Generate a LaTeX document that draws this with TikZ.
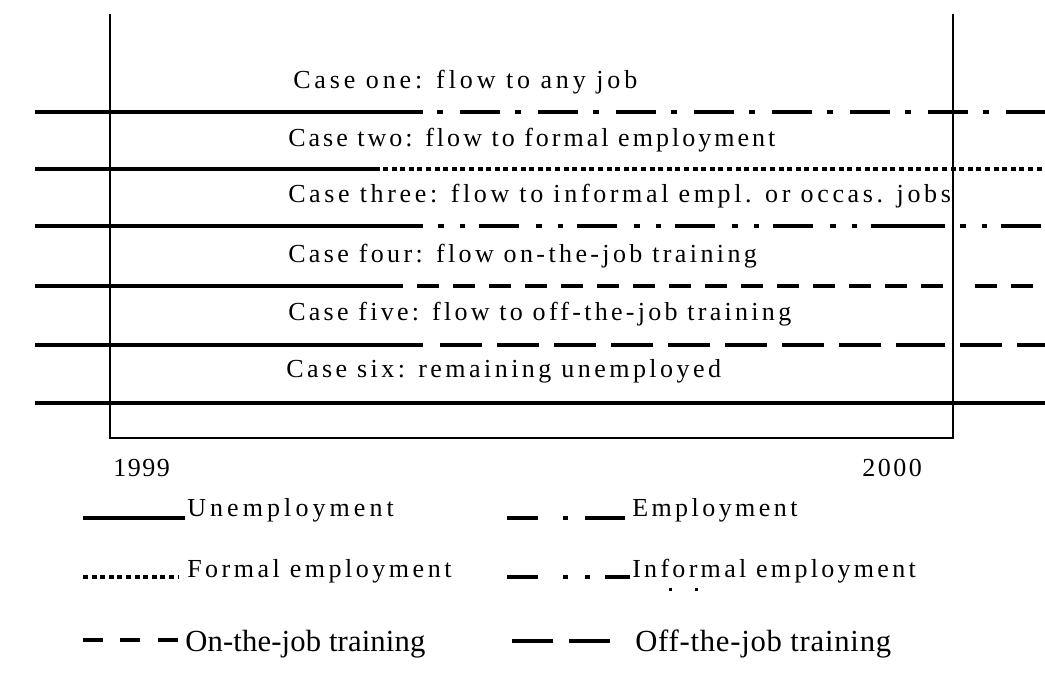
\documentclass[tikz,border=0pt]{standalone}
\usepackage{fontspec}
\setmainfont{Liberation Serif}
\newfontfamily\labelserif{Liberation Serif}
\begin{document}
\begin{tikzpicture}[x=0.75pt,y=-0.75pt,
  caselabel/.style={anchor=base west,inner sep=0pt,
    font=\labelserif\fontsize{19.5}{23}\selectfont\addfontfeature{LetterSpace=#1}},
  caselabel/.default=13,
  keybig/.style={anchor=base west,inner sep=0pt,
    font=\labelserif\fontsize{23}{27}\selectfont\addfontfeature{LetterSpace=#1}},
  keybig/.default=1,
  track/.style={line width=3.6pt},
  frameline/.style={line width=2.1pt},
  empdash/.style={dash pattern=on 4.5pt off 12.75pt on 30pt off 11.25pt},
  formdash/.style={line width=3pt,dash pattern=on 3.75pt off 2.7pt},
  infdash/.style={dash pattern=on 4.5pt off 12pt on 3.75pt off 10.5pt on 30pt off 12.75pt},
  onjdash/.style={dash pattern=on 16.5pt off 10.5pt},
  offjdash/.style={dash pattern=on 31.5pt off 11.25pt},
]
\useasboundingbox (0,0) rectangle (1045,680);

% time axis frame
\coordinate (ftl) at (110,14);
\coordinate (fbl) at (110,438);
\coordinate (fbr) at (953,438);
\coordinate (ftr) at (953,14);
\draw[frameline] (ftl) -- (fbl) -- (fbr) -- (ftr);

% case one: unemployment, then employment
\coordinate (a0) at (35,112);  \coordinate (a1) at (423,112);
\coordinate (a2) at (437,112); \coordinate (a3) at (1045,112);
\draw[track] (a0) -- (a1);
\draw[track,empdash] (a2) -- (a3);

% case two: unemployment, then formal employment
\coordinate (b0) at (35,169);  \coordinate (b1) at (380,169);
\coordinate (b2) at (383,169); \coordinate (b3) at (1045,169);
\draw[track] (b0) -- (b1);
\draw[formdash] (b2) -- (b3);

% case three: unemployment, then informal employment
\coordinate (c0) at (35,226);  \coordinate (c1) at (423,226);
\coordinate (c2) at (438,226); \coordinate (c3) at (870,226);
\coordinate (c4) at (871,226); \coordinate (c5) at (945,226);
\coordinate (c6) at (960,226); \coordinate (c7) at (1045,226);
\draw[track] (c0) -- (c1);
\draw[track,infdash] (c2) -- (c3);
\draw[track] (c4) -- (c5);
\draw[track,infdash] (c6) -- (c7);

% case four: unemployment, then on-the-job training
\coordinate (d0) at (35,286);  \coordinate (d1) at (403,286);
\coordinate (d2) at (417,286); \coordinate (d3) at (953,286);
\coordinate (d4) at (975,286); \coordinate (d5) at (1045,286);
\draw[track] (d0) -- (d1);
\draw[track,onjdash] (d2) -- (d3);
\draw[track,onjdash] (d4) -- (d5);

% case five: unemployment, then off-the-job training
\coordinate (e0) at (35,345);  \coordinate (e1) at (423,345);
\coordinate (e2) at (440,345); \coordinate (e3) at (881,345);
\coordinate (e4) at (896,345); \coordinate (e5) at (945,345);
\coordinate (e6) at (960,345); \coordinate (e7) at (1045,345);
\draw[track] (e0) -- (e1);
\draw[track,offjdash] (e2) -- (e3);
\draw[track] (e4) -- (e5);
\draw[track,offjdash] (e6) -- (e7);

% case six: unemployment throughout
\coordinate (f0) at (35,403); \coordinate (f1) at (1045,403);
\draw[track] (f0) -- (f1);

% case labels
\node[caselabel=15]   (l1) at (293,89)  {Case one: flow to any job};
\node[caselabel=11.6] (l2) at (288,147) {Case two: flow to formal employment};
\node[caselabel=14]   (l3) at (288,203) {Case three: flow to informal empl. or occas. jobs};
\node[caselabel=13]   (l4) at (288,263) {Case four: flow on-the-job training};
\node[caselabel=12.6] (l5) at (288,321) {Case five: flow to off-the-job training};
\node[caselabel=13.3] (l6) at (286,378) {Case six: remaining unemployed};

% years
\node[caselabel=6]   (y1) at (113,476) {1999};
\node[caselabel=9.8] (y2) at (862,476) {2000};

% key, row one
\coordinate (k1a) at (83,518); \coordinate (k1b) at (185,518);
\draw[track] (k1a) -- (k1b);
\node[caselabel=15.7] (t1) at (187,516) {Unemployment};
\coordinate (k2a) at (507,518); \coordinate (k2b) at (538,518);
\coordinate (k2c) at (563,518); \coordinate (k2d) at (568,518);
\coordinate (k2e) at (585,518); \coordinate (k2f) at (625,518);
\draw[track] (k2a) -- (k2b) (k2c) -- (k2d) (k2e) -- (k2f);
\node[caselabel=13.2] (t2) at (632,516) {Employment};

% key, row two
\coordinate (k3a) at (83,577); \coordinate (k3b) at (178,577);
\draw[formdash] (k3a) -- (k3b);
\node[caselabel=13.5] (t3) at (187,577) {Formal employment};
\coordinate (k4a) at (507,577); \coordinate (k4b) at (538,577);
\coordinate (k4c) at (563,577); \coordinate (k4d) at (568,577);
\coordinate (k4e) at (585,577); \coordinate (k4f) at (590,577);
\coordinate (k4g) at (605,577); \coordinate (k4h) at (630,577);
\draw[track] (k4a) -- (k4b) (k4c) -- (k4d) (k4e) -- (k4f) (k4g) -- (k4h);
\node[caselabel=12.7] (t4) at (632,577) {Informal employment};
\fill (669,588) rectangle (671.5,590.5);
\fill (695,588) rectangle (697.5,590.5);

% key, row three
\coordinate (k5a) at (83,640);  \coordinate (k5b) at (103,640);
\coordinate (k5c) at (120,640); \coordinate (k5d) at (140,640);
\coordinate (k5e) at (158,640); \coordinate (k5f) at (178,640);
\draw[track] (k5a) -- (k5b) (k5c) -- (k5d) (k5e) -- (k5f);
\node[keybig=0.5] (t5) at (185,651) {On-the-job training};
\coordinate (k6a) at (512,641); \coordinate (k6b) at (553,641);
\coordinate (k6c) at (569,641); \coordinate (k6d) at (610,641);
\draw[track] (k6a) -- (k6b) (k6c) -- (k6d);
\node[keybig=2.5] (t6) at (635,651) {Off-the-job training};
\end{tikzpicture}
\end{document}
